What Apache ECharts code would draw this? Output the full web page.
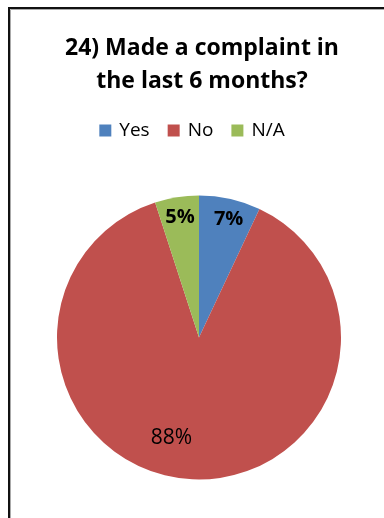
<!DOCTYPE html>
<html>
<head>
<meta charset="utf-8">
<script src="https://cdn.jsdelivr.net/npm/echarts@6/dist/echarts.min.js"></script>
<style>
  html, body { margin: 0; padding: 0; background: #fff; }
  #chart { width: 384px; height: 518px; }
</style>
</head>
<body>
<div id="chart"></div>
<script>
// Survey question 24: share of respondents who made a complaint
const titleText = '24) Made a complaint in\nthe last 6 months?';
const categories = ['Yes', 'No', 'N/A'];
const percentages = [7, 88, 5];
const colors = ['#4F81BD', '#C0504D', '#9BBB59'];

// label placement tweaks (pushed toward the rim, Excel-style)
const labelOffsets = [[13.5, -46], [-23, 27], [-7.5, -47.5]];
const labelWeights = ['bold', 'normal', 'bold'];

const chart = echarts.init(document.getElementById('chart'), null, { renderer: 'canvas' });

const seriesData = categories.map((name, i) => ({
  name: name,
  value: percentages[i],
  itemStyle: { color: colors[i] },
  label: {
    offset: labelOffsets[i],
    fontWeight: labelWeights[i],
    fontSize: labelWeights[i] === 'bold' ? 20 : 21
  }
}));

chart.setOption({
  animation: false,
  backgroundColor: '#ffffff',
  title: {
    text: titleText,
    left: 197,
    textAlign: 'center',
    top: 27,
    textStyle: {
      fontFamily: 'Open Sans',
      fontWeight: 'bold',
      fontSize: 23,
      lineHeight: 33,
      color: '#000'
    }
  },
  legend: {
    data: categories,
    top: 116,
    left: 'center',
    itemWidth: 12,
    itemHeight: 12,
    itemGap: 18,
    icon: 'rect',
    textStyle: {
      fontFamily: 'Open Sans',
      fontSize: 19,
      color: '#000',
      padding: [0, 0, 0, 3]
    }
  },
  graphic: [
    {
      type: 'rect',
      shape: { x: 9, y: 8, width: 420, height: 560 },
      style: { fill: null, stroke: '#111', lineWidth: 2 },
      z: 10
    },
    {
      type: 'rect',
      shape: { x: 10.5, y: 9.5, width: 420, height: 560 },
      style: { fill: null, stroke: '#aaa', lineWidth: 1 },
      z: 9
    }
  ],
  series: [{
    type: 'pie',
    center: [199, 337.5],
    radius: [0, 142],
    startAngle: 90,
    clockwise: true,
    label: {
      show: true,
      position: 'inside',
      formatter: '{c}%',
      fontFamily: 'Open Sans',
      color: '#000'
    },
    labelLine: { show: false },
    emphasis: { disabled: true },
    data: seriesData
  }]
});
</script>
</body>
</html>
